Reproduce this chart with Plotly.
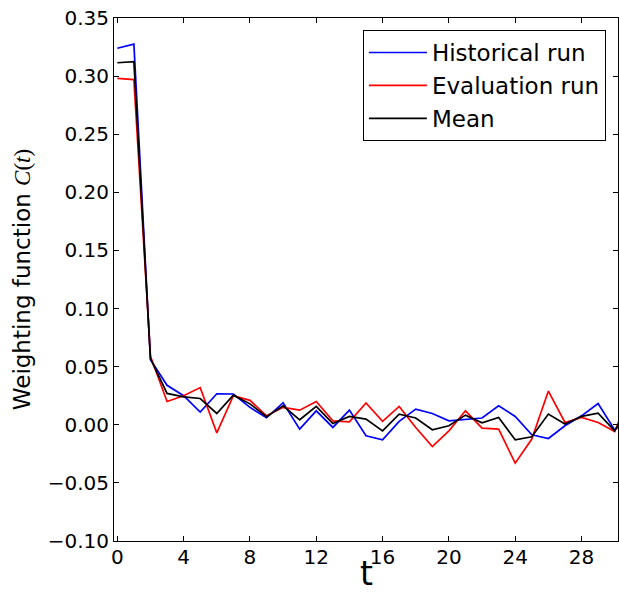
import plotly.graph_objects as go

t = list(range(32))
historical = [0.324, 0.3275, 0.056, 0.034, 0.025, 0.011, 0.0267, 0.0265, 0.015, 0.006,
              0.019, -0.0037, 0.012, -0.0023, 0.0126, -0.0095, -0.0129, 0.0029, 0.0135, 0.0097,
              0.0034, 0.0049, 0.0058, 0.0163, 0.0072, -0.0086, -0.0118, -0.0009, 0.0077, 0.0183,
              -0.0045, 0.008]
evaluation = [0.298, 0.297, 0.059, 0.020, 0.025, 0.032, -0.007, 0.025, 0.021, 0.0077,
              0.015, 0.0126, 0.020, 0.0034, 0.0026, 0.0187, 0.0029, 0.0158, -0.0023, -0.0187,
              -0.0052, 0.012, -0.0029, -0.0037, -0.033, -0.0123, 0.029, 0.002, 0.0063, 0.002,
              -0.0058, 0.03]
mean = [0.3115, 0.3124, 0.057, 0.027, 0.024, 0.0226, 0.0097, 0.0255, 0.018, 0.007,
        0.0163, 0.0043, 0.0158, 0.0011, 0.0072, 0.0049, -0.0052, 0.0092, 0.0058, -0.0043,
        -0.0009, 0.0083, 0.0017, 0.0063, -0.0129, -0.0103, 0.0092, 0.0006, 0.0072, 0.010,
        -0.0052, 0.019]

x_ticks = [0, 4, 8, 12, 16, 20, 24, 28]

FONT = "DejaVu Sans"

fig = go.Figure()
fig.add_trace(go.Scatter(x=t, y=historical, mode="lines", name="Historical run",
                         line=dict(color="#0000ff", width=1.7)))
fig.add_trace(go.Scatter(x=t, y=evaluation, mode="lines", name="Evaluation run",
                         line=dict(color="#ff0000", width=1.7)))
fig.add_trace(go.Scatter(x=t, y=mean, mode="lines", name="Mean",
                         line=dict(color="#000000", width=1.7)))

axis_common = dict(showline=True, linecolor="black", linewidth=1, mirror="ticks",
                   ticks="inside", ticklen=5, tickcolor="black", tickwidth=1,
                   showgrid=False, zeroline=False, automargin=False,
                   tickfont=dict(family=FONT, size=20, color="black"))

fig.update_layout(
    width=619, height=594,
    margin=dict(l=114, r=1, t=18, b=53),
    paper_bgcolor="white", plot_bgcolor="white",
    font=dict(family=FONT, color="black"),
    xaxis=dict(range=[-0.2, 30.2], tickvals=x_ticks, ticklabelstandoff=-2, **axis_common),
    yaxis=dict(range=[-0.1, 0.35], dtick=0.05, tick0=0, tickformat=".2f",
               title=dict(text="Weighting function <span style=\"font-family:'Liberation Serif'\"><i>C</i>(<i>t</i>)</span>",
                          font=dict(family=FONT, size=23), standoff=10),
               **axis_common),
    legend=dict(x=0.976, y=0.977, xanchor="right", yanchor="top",
                bordercolor="black", borderwidth=1, bgcolor="white",
                font=dict(family=FONT, size=23), itemwidth=58),
    showlegend=True,
    annotations=[dict(text="t", xref="paper", yref="paper", x=0.5, y=-0.1013,
                      xanchor="center", yanchor="bottom", showarrow=False, borderpad=0,
                      font=dict(family=FONT, size=33, color="black"))],
)

fig.write_html("out.html")
